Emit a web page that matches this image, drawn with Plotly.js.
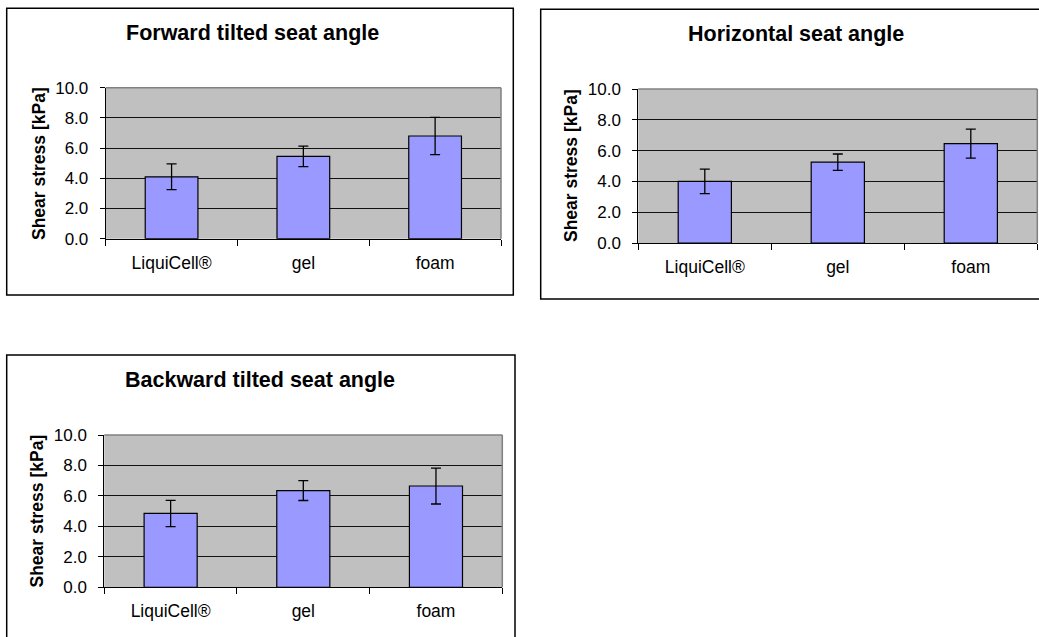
<!DOCTYPE html>
<html>
<head>
<meta charset="utf-8">
<script src="https://cdn.plot.ly/plotly-3.0.1.min.js"></script>
<style>
  html, body { margin: 0; padding: 0; background: #ffffff; }
  #chart { width: 1039px; height: 637px; }
</style>
</head>
<body>
<div id="chart"></div>
<script>
// ---- data ----
const categories = ["LiquiCell®", "gel", "foam"];
const panelTitles = ["Forward tilted seat angle", "Horizontal seat angle", "Backward tilted seat angle"];
const yAxisTitle = "Shear stress [kPa]";
const forwardValues = [4.1, 5.45, 6.8];
const forwardErrors = [0.85, 0.68, 1.23];
const horizontalValues = [4.0, 5.25, 6.45];
const horizontalErrors = [0.8, 0.53, 0.94];
const backwardValues = [4.85, 6.35, 6.65];
const backwardErrors = [0.86, 0.65, 1.18];
const yTickVals = [0, 2, 4, 6, 8, 10];
const yTickText = ["0.0", "2.0", "4.0", "6.0", "8.0", "10.0"];

// ---- layout helpers (pixel geometry) ----
const W = 1039, H = 637;
const px = x => x / W;
const py = y => 1 - y / H;

const panels = [
  { vals: forwardValues, errs: forwardErrors, plot: [105.7, 87.7, 501, 238.7],
    box: [6.7, 8.3, 513.3, 295], title: [252.5, 33], ytitle: [39, 164] },
  { vals: horizontalValues, errs: horizontalErrors, plot: [638.3, 89, 1037.3, 243],
    box: [540.7, 9.3, 1045, 299], title: [796.3, 34.5], ytitle: [571, 166] },
  { vals: backwardValues, errs: backwardErrors, plot: [104.3, 435, 502.3, 587.3],
    box: [6.7, 355, 515, 645], title: [260.3, 380], ytitle: [36, 511.5] }
];

const FONT = "Liberation Sans, Arial, sans-serif";
const traces = [];
const layout = {
  width: W, height: H,
  margin: { l: 0, r: 0, t: 0, b: 0 },
  paper_bgcolor: "#ffffff",
  showlegend: false,
  font: { family: FONT, color: "#000000", size: 17 },
  shapes: [], annotations: []
};

panels.forEach((p, i) => {
  const n = i === 0 ? "" : String(i + 1);
  const xa = "x" + n, ya = "y" + n;
  traces.push({
    type: "bar",
    x: categories,
    y: p.vals,
    xaxis: xa, yaxis: ya,
    width: 0.4,
    marker: { color: "#9999FF", line: { color: "#000000", width: 1.2 } },
    error_y: { type: "data", array: p.errs, visible: true, color: "#000000", thickness: 1.3, width: 5 },
    hoverinfo: "x+y"
  });
  const [x0, y0, x1, y1] = p.plot;
  layout["xaxis" + n] = {
    domain: [px(x0), px(x1)],
    anchor: ya,
    type: "category",
    range: [-0.5, 2.5],
    showline: true, linecolor: "#000000", linewidth: 1,
    ticks: "outside", ticklen: 6, tickcolor: "#000000", tickwidth: 1,
    tickson: "boundaries",
    showgrid: false, zeroline: false,
    tickfont: { family: FONT, size: 17.5, color: "#000000" },
    ticklabelstandoff: 8,
    fixedrange: true
  };
  layout["yaxis" + n] = {
    domain: [py(y1), py(y0)],
    anchor: xa,
    range: [0, 10],
    tickvals: yTickVals, ticktext: yTickText,
    showline: true, linecolor: "#000000", linewidth: 1,
    ticks: "outside", ticklen: 5, tickcolor: "#000000", tickwidth: 1,
    showgrid: true, gridcolor: "#111111", gridwidth: 1,
    zeroline: false,
    tickfont: { family: FONT, size: 17, color: "#000000" },
    ticklabelstandoff: 8,
    fixedrange: true
  };
  layout["plot_bgcolor"] = "#C0C0C0";
  // gray top & right frame of plot area
  layout.shapes.push({ type: "line", xref: "paper", yref: "paper", layer: "above",
    x0: px(x0), x1: px(x1), y0: py(y0), y1: py(y0), line: { color: "#808080", width: 1.5 } });
  layout.shapes.push({ type: "line", xref: "paper", yref: "paper", layer: "above",
    x0: px(x1), x1: px(x1), y0: py(y0), y1: py(y1), line: { color: "#808080", width: 1.5 } });
  // outer chart border
  const [bx0, by0, bx1, by1] = p.box;
  layout.shapes.push({ type: "rect", xref: "paper", yref: "paper", layer: "below",
    x0: px(bx0), x1: px(bx1), y0: py(by1), y1: py(by0), line: { color: "#000000", width: 1.5 },
    fillcolor: "rgba(0,0,0,0)" });
  // chart title
  layout.annotations.push({ text: "<b>" + panelTitles[i] + "</b>", xref: "paper", yref: "paper",
    x: px(p.title[0]), y: py(p.title[1]), xanchor: "center", yanchor: "middle", showarrow: false,
    font: { family: FONT, size: 21.5, color: "#000000" } });
  // y axis title
  layout.annotations.push({ text: "<b>" + yAxisTitle + "</b>", xref: "paper", yref: "paper",
    x: px(p.ytitle[0]), y: py(p.ytitle[1]), xanchor: "center", yanchor: "middle", showarrow: false,
    textangle: -90, font: { family: FONT, size: 17.5, color: "#000000" } });
});

Plotly.newPlot("chart", traces, layout, { displayModeBar: false, staticPlot: false });
</script>
</body>
</html>
